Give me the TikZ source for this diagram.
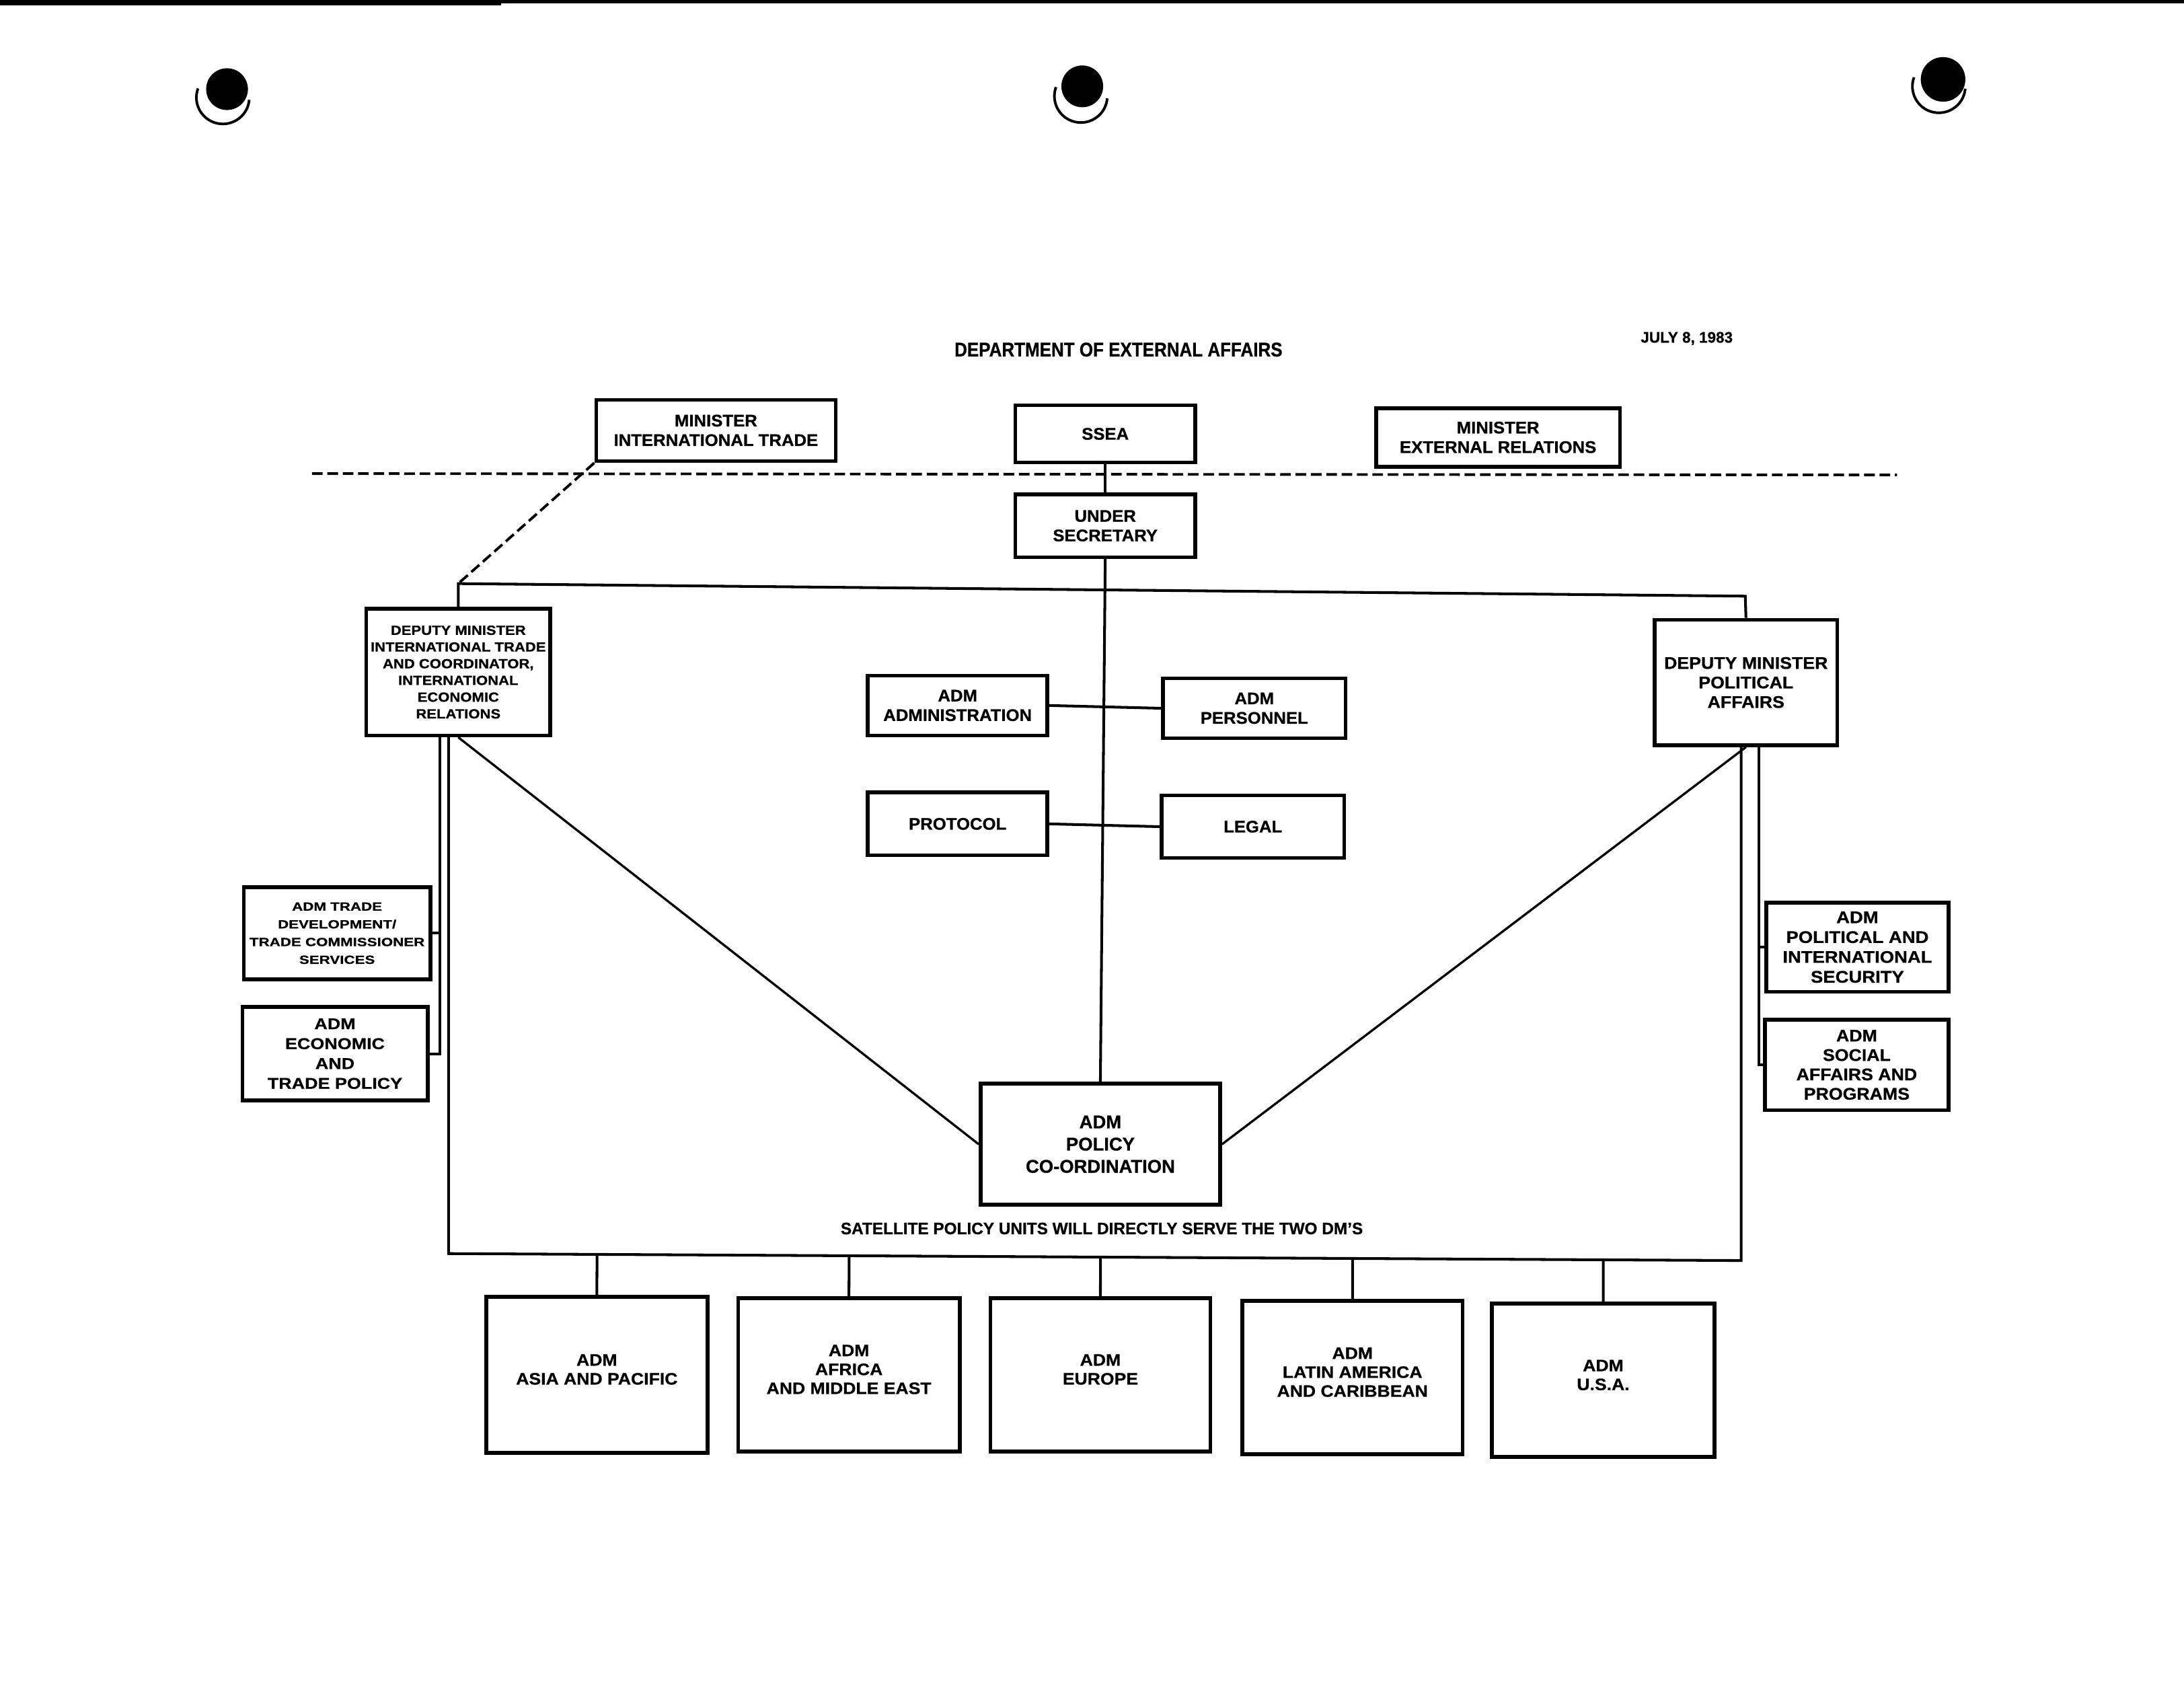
\documentclass[tikz,border=0pt]{standalone}
\usepackage{fontspec}
\setmainfont{Liberation Sans}
\usetikzlibrary{calc}
\newcommand\tfont[3]{\fontsize{#1}{#2}\selectfont\bfseries\addfontfeature{FakeStretch=#3,FakeBold=0.8}}
\begin{document}
\begin{tikzpicture}[x=0.020708cm, y=-0.020708cm,
  box/.style={draw, line width=1.6pt, align=center, inner sep=0pt},
  sz/.style 2 args={minimum width=#1*0.020708cm, minimum height=#2*0.020708cm},
  std/.style={font=\tfont{7.1}{8.25}{1.03}},
  bot/.style={font=\tfont{7}{8}{1.08}, text depth=0.16cm},
  conn/.style={line width=1.15pt},
  diag/.style={line width=0.95pt},
  hole/.style={line width=1.1pt},
  dash line/.style={line width=1.1pt, dash pattern=on 4.5pt off 2pt}]
\useasboundingbox (0,0) rectangle (1568,1215);
\fill[white] (0,0) rectangle (1568,1215);

% scan edge and punch holes
\fill (0,0) rectangle (1568,2.2);
\fill (0,0) rectangle (360,4);
\fill (163,64) circle[radius=15];
\draw[hole] (160,70) ++(200:19) arc[start angle=200,end angle=5,radius=19];
\fill (777,62) circle[radius=15];
\draw[hole] (776,69) ++(200:19) arc[start angle=200,end angle=5,radius=19];
\fill (1395,57) circle[radius=16];
\draw[hole] (1392,62) ++(200:19) arc[start angle=200,end angle=5,radius=19];

% titles
\node[font=\tfont{8.4}{9}{0.88}] (title) at (803,251) {DEPARTMENT OF EXTERNAL AFFAIRS};
\node[font=\tfont{6.4}{7}{1}] (date) at (1211,243) {JULY 8, 1983};

% boxes
\node[box,std,sz={172}{44}] (mit) at (514,309) {MINISTER\\INTERNATIONAL TRADE};
\node[box,std,sz={129}{41}] (ssea) at (793.5,311.5) {SSEA};
\node[box,std,sz={175}{42}] (mer) at (1075.5,314) {MINISTER\\EXTERNAL RELATIONS};
\node[box,std,sz={129}{45}] (us) at (793.5,377.5) {UNDER\\SECRETARY};
\node[box,font=\tfont{5.6}{7.07}{1.12},sz={132}{91}] (dmit) at (329,482.5) {DEPUTY MINISTER\\INTERNATIONAL TRADE\\AND COORDINATOR,\\INTERNATIONAL\\ECONOMIC\\RELATIONS};
\node[box,font=\tfont{7.1}{8.25}{1.07},sz={131}{90}] (dmpa) at (1253.5,490) {DEPUTY MINISTER\\POLITICAL\\AFFAIRS};
\node[box,std,sz={129}{43}] (admin) at (687.5,506.5) {ADM\\ADMINISTRATION};
\node[box,std,sz={131}{43}] (pers) at (900.5,508.5) {ADM\\PERSONNEL};
\node[box,std,sz={129}{45}] (prot) at (687.5,591.5) {PROTOCOL};
\node[box,std,sz={131}{45}] (legal) at (899.5,593.5) {LEGAL};
\node[box,font=\tfont{5}{7.5}{1.27},sz={134}{66}] (tdev) at (242,670) {ADM TRADE\\DEVELOPMENT/\\TRADE COMMISSIONER\\SERVICES};
\node[box,font=\tfont{6.6}{8.4}{1.16},sz={133}{67}] (econ) at (240.5,756.5) {ADM\\ECONOMIC\\AND\\TRADE POLICY};
\node[box,font=\tfont{7.1}{8.4}{1.1},sz={131}{64}] (pais) at (1333.5,680) {ADM\\POLITICAL AND\\INTERNATIONAL\\SECURITY};
\node[box,font=\tfont{7.1}{8.2}{1.07},sz={132}{65}] (social) at (1333,764.5) {ADM\\SOCIAL\\AFFAIRS AND\\PROGRAMS};
\node[box,font=\tfont{7.8}{9.4}{1.0},sz={172}{87}] (pc) at (790,821.5) {ADM\\POLICY\\CO-ORDINATION};

\node[font=\tfont{7}{8}{0.99}] (sat) at (791,882) {SATELLITE POLICY UNITS WILL DIRECTLY SERVE THE TWO DM'S};

\node[box,bot,sz={159}{112}] (asia) at (428.5,987) {ADM\\ASIA AND PACIFIC};
\node[box,bot,sz={159}{110}] (afr) at (609.5,987) {ADM\\AFRICA\\AND MIDDLE EAST};
\node[box,bot,sz={158}{110}] (eur) at (790,987) {ADM\\EUROPE};
\node[box,bot,sz={158}{110}] (lat) at (971,989) {ADM\\LATIN AMERICA\\AND CARIBBEAN};
\node[box,bot,sz={160}{110}] (usa) at (1151,991) {ADM\\U.S.A.};

% coordinates
\coordinate (tl) at (329,419);
\coordinate (tr) at (1253,428);
\coordinate (bl) at (322,900);
\coordinate (br) at (1250,905);
\coordinate (dl) at (224,340);
\coordinate (dr) at (1362,341);
\coordinate (lil) at (316,0);
\coordinate (ril) at (1263,0);

% connectors
\draw[dash line] (dl) -- (dr);
\draw[dash line] (mit.south west) -- (tl);
\draw[conn] (ssea.south) -- (us.north);
\draw[conn] (us.south) -- (pc.north);
\draw[conn] (dmit.north) -- (tl) -- (tr) -- (dmpa.north);
\draw[conn] (dmit.south -| bl) -- (bl) -- (br) -- (dmpa.south -| br);
\draw[conn] (dmit.south -| lil) -- (econ.east -| lil) -- (econ.east);
\draw[conn] (tdev.east) -- (tdev.east -| lil);
\draw[conn] (dmpa.south -| ril) -- (social.west -| ril) -- (social.west);
\draw[conn] (pais.west) -- (pais.west -| ril);
\draw[diag] (dmit.south) -- (pc.west);
\draw[diag] (dmpa.south) -- (pc.east);
\draw[conn] (admin.east) -- (pers.west);
\draw[conn] (prot.east) -- (legal.west);
\foreach \n in {asia,afr,eur,lat,usa}
  \draw[conn] (\n.north) -- ($(bl)!(\n.north)!(br)$);
\end{tikzpicture}
\end{document}
